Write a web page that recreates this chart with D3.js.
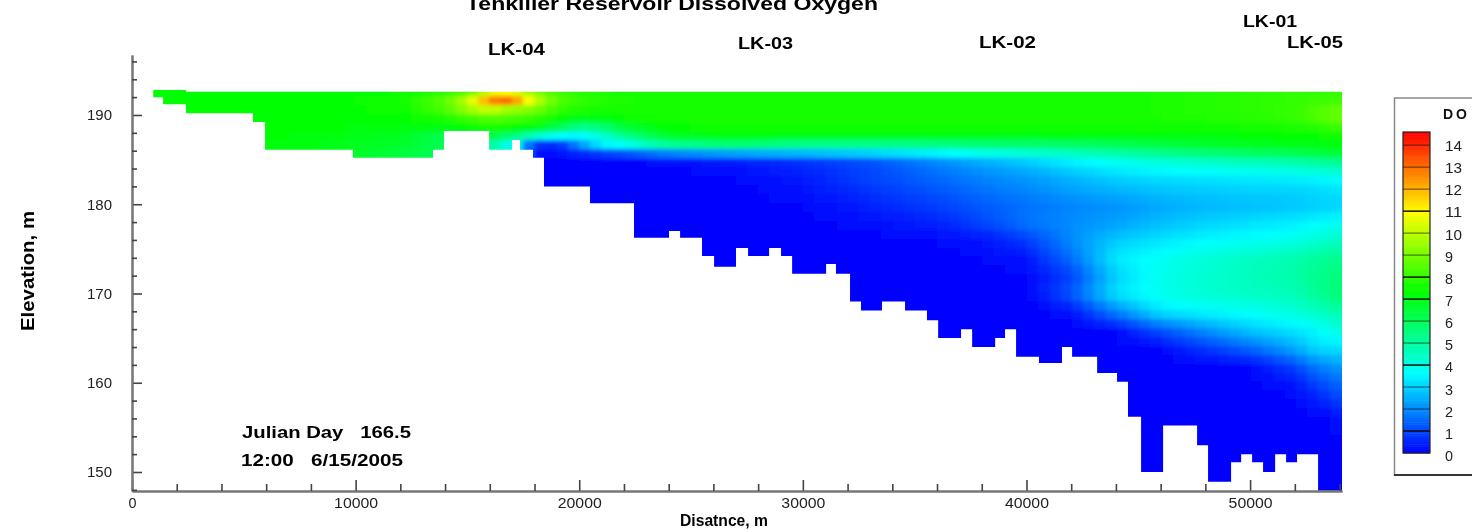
<!DOCTYPE html>
<html>
<head>
<meta charset="utf-8">
<script src="https://cdn.jsdelivr.net/npm/d3@7"></script>
<style>
	html, body { margin: 0; padding: 0; background: #fff; overflow: hidden; }
	svg { display: block; filter: blur(0.4px); font-family: 'Liberation Sans', Arial, sans-serif; }
	text { white-space: pre; filter: blur(0.6px); }
</style>
</head>
<body>
<svg id="chart" width="1472" height="529"></svg>
<script>
// distance along the reservoir (m) for each column of doValues
const distances = [1000, 4000, 8000, 12000, 14000, 15000, 16000, 16500, 17000, 18000, 19000, 20000, 21000, 22000, 24000, 27000, 30000, 33000, 36000, 38000, 40000, 42000, 44000, 46000, 48000, 50000, 52000, 53000, 54100];
// elevation (m) for each row of doValues
const elevations = [192.5, 191.7, 191, 190, 189, 188, 187, 186, 185.3, 184.5, 183, 182, 180, 178, 176, 174, 172, 170, 168, 166, 164, 162, 160, 158, 156, 152, 148];
// dissolved oxygen
const doValues = [
	[7.3, 7.3, 7.3, 7.4, 7.8, 8.4, 10.4, 11, 10.8, 9.2, 8.2, 7.9, 7.7, 7.6, 7.6, 7.6, 7.6, 7.6, 7.6, 7.6, 7.6, 7.6, 7.6, 7.7, 7.8, 7.9, 8, 8, 8],
	[7.3, 7.3, 7.3, 7.5, 8.6, 10, 12.6, 13.2, 12.9, 10.2, 8.5, 8, 7.8, 7.7, 7.6, 7.6, 7.6, 7.6, 7.6, 7.6, 7.6, 7.6, 7.6, 7.7, 7.8, 7.9, 8, 8.1, 8.2],
	[7.3, 7.3, 7.3, 7.5, 8.6, 10, 11, 10.2, 9.9, 9.4, 8.2, 7.8, 7.7, 7.6, 7.6, 7.6, 7.6, 7.6, 7.6, 7.6, 7.6, 7.6, 7.6, 7.7, 7.8, 7.9, 8, 8.4, 8.6],
	[7.3, 7.3, 7.3, 7.3, 7.8, 8.2, 8.7, 8.6, 8.5, 8.2, 7.7, 7.4, 7.5, 7.6, 7.6, 7.6, 7.6, 7.6, 7.6, 7.6, 7.6, 7.6, 7.6, 7.7, 7.8, 7.9, 8.1, 8.5, 9],
	[7.3, 7.3, 7.3, 7.2, 7.4, 7.8, 8, 7.9, 7.7, 7.5, 6.8, 5.8, 6.2, 7, 7.5, 7.5, 7.5, 7.5, 7.5, 7.5, 7.5, 7.5, 7.5, 7.6, 7.6, 7.7, 7.8, 8, 8.4],
	[7.3, 7.3, 7.2, 6.9, 6.2, 6.2, 6.9, 6.8, 6.4, 6, 5, 3.9, 4.2, 5.5, 7, 7.4, 7.4, 7.4, 7.4, 7.4, 7.4, 7.4, 7.4, 7.3, 7.2, 7.3, 7.4, 7.4, 7.6],
	[7.3, 7.3, 7.1, 6.8, 6.1, 6, 5.8, 3.9, 4.2, 1, 0.6, 2.6, 4.3, 4.7, 6.2, 6.6, 6, 5.9, 6, 6.1, 6.2, 6.3, 6.5, 6.7, 7, 7.1, 7.2, 7.3, 7.3],
	[7.3, 7.3, 7, 6.5, 6, 6, 5, 4, 4.2, 0.3, 0.3, 0.9, 1.4, 1.8, 3, 3.6, 3.8, 4, 4.3, 4.6, 4.8, 5, 5.4, 5.8, 6, 6.3, 6.5, 6.8, 7],
	[7.3, 7.3, 6.9, 6.4, 6, 6, 5, 4, 4, 0.1, 0.1, 0.1, 0.1, 0.2, 0.3, 0.6, 1, 1.6, 2.4, 3, 3.5, 3.9, 4.2, 4.6, 5, 5.3, 5.6, 5.8, 6],
	[7.3, 7.3, 6.9, 6.4, 6, 6, 5, 4, 4, 0, 0, 0, 0, 0, 0.1, 0.3, 0.6, 1, 1.8, 2.3, 2.7, 3.3, 3.7, 4, 4.2, 4.4, 4.6, 4.8, 5],
	[0, 0, 0, 0, 0, 0, 0, 0, 0, 0, 0, 0, 0, 0, 0, 0.1, 0.4, 1, 1.5, 1.9, 2.2, 2.6, 3, 3.2, 3.3, 3.4, 3.5, 3.6, 3.8],
	[0, 0, 0, 0, 0, 0, 0, 0, 0, 0, 0, 0, 0, 0, 0, 0, 0.3, 0.8, 1.3, 1.7, 2, 2.4, 2.7, 2.9, 3, 3.1, 3.1, 3.2, 3.4],
	[0, 0, 0, 0, 0, 0, 0, 0, 0, 0, 0, 0, 0, 0, 0, 0, 0.1, 0.5, 0.9, 1.3, 1.6, 1.9, 2.1, 2.4, 2.6, 2.7, 2.8, 2.9, 3],
	[0, 0, 0, 0, 0, 0, 0, 0, 0, 0, 0, 0, 0, 0, 0, 0, 0, 0.2, 0.5, 1, 1.7, 2, 2.3, 2.7, 3, 3.2, 3.4, 3.6, 3.8],
	[0, 0, 0, 0, 0, 0, 0, 0, 0, 0, 0, 0, 0, 0, 0, 0, 0, 0, 0.1, 0.2, 0.8, 2, 2.9, 3.3, 3.6, 3.8, 4, 4.3, 4.6],
	[0, 0, 0, 0, 0, 0, 0, 0, 0, 0, 0, 0, 0, 0, 0, 0, 0, 0, 0, 0.1, 0.3, 1.6, 3.4, 3.8, 4.2, 4.5, 4.8, 5.1, 5.3],
	[0, 0, 0, 0, 0, 0, 0, 0, 0, 0, 0, 0, 0, 0, 0, 0, 0, 0, 0, 0, 0.1, 0.9, 3, 3.9, 4.3, 4.6, 4.9, 5.3, 5.6],
	[0, 0, 0, 0, 0, 0, 0, 0, 0, 0, 0, 0, 0, 0, 0, 0, 0, 0, 0, 0, 0, 1.3, 3.3, 3.9, 4.3, 4.5, 4.7, 5.2, 5.8],
	[0, 0, 0, 0, 0, 0, 0, 0, 0, 0, 0, 0, 0, 0, 0, 0, 0, 0, 0, 0, 0, 0.2, 1.9, 3.3, 3.6, 3.8, 4.2, 4.5, 4.9],
	[0, 0, 0, 0, 0, 0, 0, 0, 0, 0, 0, 0, 0, 0, 0, 0, 0, 0, 0, 0, 0, 0, 0.1, 1.2, 2.1, 2.9, 3.3, 3.6, 4.2],
	[0, 0, 0, 0, 0, 0, 0, 0, 0, 0, 0, 0, 0, 0, 0, 0, 0, 0, 0, 0, 0, 0, 0, 0.1, 0.8, 1.5, 2.5, 3.2, 3.3],
	[0, 0, 0, 0, 0, 0, 0, 0, 0, 0, 0, 0, 0, 0, 0, 0, 0, 0, 0, 0, 0, 0, 0, 0, 0, 0.1, 1, 1.8, 2.3],
	[0, 0, 0, 0, 0, 0, 0, 0, 0, 0, 0, 0, 0, 0, 0, 0, 0, 0, 0, 0, 0, 0, 0, 0, 0, 0, 0.3, 1, 1.6],
	[0, 0, 0, 0, 0, 0, 0, 0, 0, 0, 0, 0, 0, 0, 0, 0, 0, 0, 0, 0, 0, 0, 0, 0, 0, 0, 0, 0.4, 1],
	[0, 0, 0, 0, 0, 0, 0, 0, 0, 0, 0, 0, 0, 0, 0, 0, 0, 0, 0, 0, 0, 0, 0, 0, 0, 0, 0, 0, 0.2],
	[0, 0, 0, 0, 0, 0, 0, 0, 0, 0, 0, 0, 0, 0, 0, 0, 0, 0, 0, 0, 0, 0, 0, 0, 0, 0, 0, 0, 0],
	[0, 0, 0, 0, 0, 0, 0, 0, 0, 0, 0, 0, 0, 0, 0, 0, 0, 0, 0, 0, 0, 0, 0, 0, 0, 0, 0, 0, 0]
];

// reservoir bed: each step starts at bedX and holds bedElev until the next one
const bedX = [950, 1390, 2415, 5410, 5950, 9880, 13460, 13950, 15970, 16990, 17350, 17930, 18425, 20480, 22450, 24015, 24510, 25490, 26030, 27010, 27550, 28490, 29025, 29520, 31040, 31480, 32110, 32600, 33540, 34570, 35550, 36050, 37075, 37570, 38600, 39040, 39535, 40560, 41590, 42040, 43160, 44050, 44540, 45125, 46110, 47630, 48120, 49150, 49600, 50090, 50580, 51120, 51610, 52100, 53040, 54110];
const bedElev = [192, 191.2, 190.2, 189.2, 186.1, 185.2, 186.1, 188.2, 186.1, 187.2, 186.1, 185.2, 182, 180.1, 176.25, 177, 176.25, 174.2, 173, 175.1, 174.2, 175.1, 174.2, 172.2, 173.3, 172.2, 169.1, 168.1, 169.1, 168.1, 167, 165, 166, 164, 165, 166, 162.9, 162.2, 164, 162.9, 161.1, 160.1, 156.2, 150, 155.2, 153, 148.9, 151.1, 152, 151.1, 150, 152, 151.1, 152, 147.9, 147.9];
const surfaceElev = 192.6;
const shallowSurfaceElev = 192.8;
const shallowEnd = 2415;

const xMajor = [0, 10000, 20000, 30000, 40000, 50000];
const xMinor = [2000, 4000, 6000, 8000, 12000, 14000, 16000, 18000, 22000, 24000, 26000, 28000, 32000, 34000, 36000, 38000, 42000, 44000, 46000, 48000, 52000, 54000];
const yMajor = [150, 160, 170, 180, 190];
const yMinor = [148, 152, 154, 156, 158, 162, 164, 166, 168, 172, 174, 176, 178, 182, 184, 186, 188, 192, 194, 196];

const colorStops = [0, 3.65, 7.3, 10.95, 14.6];
const colorRange = ['#0000ff', '#00ffff', '#00ff00', '#ffff00', '#ff0000'];
const legendLabels = [0, 1, 2, 3, 4, 5, 6, 7, 8, 9, 10, 11, 12, 13, 14];
const legendDarkLines = [1, 4, 7, 8, 11];

const stations = [
	{ name: 'LK-04', x: 488, y: 55, w: 57 },
	{ name: 'LK-03', x: 738, y: 49, w: 55 },
	{ name: 'LK-02', x: 979, y: 48, w: 57 },
	{ name: 'LK-01', x: 1243, y: 27, w: 54 },
	{ name: 'LK-05', x: 1287, y: 48, w: 56 }
];

const svg = d3.select('#chart');
const x = d3.scaleLinear().domain([0, 54110]).range([132, 1342]);
const y = d3.scaleLinear().domain([147.87, 196.72]).range([491, 55]);
const color = d3.scaleLinear().domain(colorStops).range(colorRange);

// fractional position inside the table of read values
const colIndex = d3.scaleLinear().domain(distances).range(d3.range(distances.length)).clamp(true);
const rowIndex = d3.scaleLinear().domain(elevations).range(d3.range(elevations.length)).clamp(true);

function sampleDO(dist, elev) {
	const c = colIndex(dist), r = rowIndex(elev);
	const c0 = Math.floor(c), r0 = Math.floor(r);
	const c1 = Math.min(c0 + 1, distances.length - 1), r1 = Math.min(r0 + 1, elevations.length - 1);
	const top = d3.interpolateNumber(doValues[r0][c0], doValues[r0][c1])(c - c0);
	const bottom = d3.interpolateNumber(doValues[r1][c0], doValues[r1][c1])(c - c0);
	return d3.interpolateNumber(top, bottom)(r - r0);
}

function drawField() {
	const cellW = 501, cellH = 1;
	const cells = d3.cross(d3.range(450, 54700, cellW), d3.range(146.2, 194.2, cellH));
	const bed = d3.area()
		.x(d => x(d[0]))
		.y0(d => y(d[1]))
		.y1(d => y(d[0] < shallowEnd ? shallowSurfaceElev : surfaceElev))
		.curve(d3.curveStepAfter);

	const defs = svg.append('defs');
	defs.append('clipPath').attr('id', 'water')
		.append('path').attr('d', bed(d3.zip(bedX, bedElev)));
	defs.append('filter').attr('id', 'soft')
		.attr('filterUnits', 'userSpaceOnUse')
		.attr('x', 0).attr('y', 0).attr('width', 1472).attr('height', 529)
		.append('feGaussianBlur').attr('stdDeviation', 2);

	svg.append('g').attr('clip-path', 'url(#water)')
		.append('g').attr('filter', 'url(#soft)')
		.attr('shape-rendering', 'crispEdges')
		.selectAll('rect')
		.data(cells)
		.enter()
		.append('rect')
		.attr('x', d => x(d[0]))
		.attr('y', d => y(d[1] + cellH))
		.attr('width', x(cellW) - x(0) + 0.5)
		.attr('height', y(0) - y(cellH) + 0.5)
		.attr('fill', d => color(sampleDO(d[0] + cellW / 2, d[1] + cellH / 2)));
}

function styleAxis(g) {
	g.selectAll('path').attr('stroke', '#777').attr('stroke-width', 2);
	g.selectAll('line').attr('stroke', '#444').attr('stroke-width', 1.6);
}

function drawAxes() {
	const xAxis = svg.append('g').attr('transform', 'translate(0,491)')
		.call(d3.axisBottom(x).tickValues(xMajor).tickSizeInner(-11).tickSizeOuter(0).tickPadding(6).tickFormat(d3.format('d')));
	const xAxisMinor = svg.append('g').attr('transform', 'translate(0,491)')
		.call(d3.axisBottom(x).tickValues(xMinor).tickSizeInner(-7).tickSizeOuter(0).tickFormat(''));
	xAxis.selectAll('text')
		.attr('font-size', 15).attr('fill', '#222').attr('font-family', 'Liberation Sans')
		.attr('textLength', d => d === 0 ? 8 : 44)
		.attr('lengthAdjust', 'spacingAndGlyphs');
	styleAxis(xAxis);
	styleAxis(xAxisMinor);

	const yAxis = svg.append('g').attr('transform', 'translate(132,0)')
		.call(d3.axisLeft(y).tickValues(yMajor).tickSizeInner(-10).tickSizeOuter(0).tickPadding(20).tickFormat(d3.format('d')));
	const yAxisMinor = svg.append('g').attr('transform', 'translate(132,0)')
		.call(d3.axisLeft(y).tickValues(yMinor).tickSizeInner(-5).tickSizeOuter(0).tickFormat(''));
	yAxis.selectAll('text')
		.attr('font-size', 15).attr('fill', '#222').attr('font-family', 'Liberation Sans')
		.attr('textLength', 25)
		.attr('lengthAdjust', 'spacingAndGlyphs');
	styleAxis(yAxis);
	styleAxis(yAxisMinor);
}

function label(txt, px, py, w, size) {
	return svg.append('text')
		.attr('x', px).attr('y', py)
		.attr('font-size', size).attr('font-weight', 'bold').attr('fill', '#000')
		.attr('textLength', w).attr('lengthAdjust', 'spacingAndGlyphs')
		.text(txt);
}

function drawLabels() {
	label('Tenkiller Reservoir Dissolved Oxygen', 466, 10, 412, 19);
	stations.forEach(s => label(s.name, s.x, s.y, s.w, 17));
	label('Disatnce, m', 680, 526, 88, 17);
	label('Elevation, m', 0, 0, 120, 18).attr('transform', 'translate(34,331) rotate(-90)');
	label('Julian Day   166.5', 242, 438, 169, 17);
	label('12:00   6/15/2005', 241, 466, 162, 17);
}

function drawLegend() {
	const legendY = d3.scaleLinear().domain([0, 14.6]).range([453, 132]);
	const labelY = d3.scaleLinear().domain([0, 14]).range([461, 151]);
	const g = svg.append('g');

	g.append('path').attr('d', 'M1480,98H1394.5V475H1480')
		.attr('fill', '#fff').attr('stroke', '#888').attr('stroke-width', 1.5);
	g.append('line').attr('x1', 1394).attr('x2', 1480).attr('y1', 475).attr('y2', 475)
		.attr('stroke', '#111').attr('stroke-width', 1.5);

	g.selectAll('rect.slice')
		.data(d3.range(0, 14.6, 0.1))
		.enter()
		.append('rect')
		.attr('class', 'slice')
		.attr('x', 1403).attr('width', 27)
		.attr('y', d => legendY(d + 0.1))
		.attr('height', legendY(0) - legendY(0.1) + 0.5)
		.attr('fill', d => color(d + 0.05));

	g.selectAll('line.sep')
		.data(legendLabels.slice(1))
		.enter()
		.append('line')
		.attr('class', 'sep')
		.attr('x1', 1403).attr('x2', 1430)
		.attr('y1', d => legendY(d)).attr('y2', d => legendY(d))
		.attr('stroke', '#000').attr('stroke-width', 1.4)
		.attr('stroke-opacity', d => legendDarkLines.includes(d) ? 1 : 0.45);

	g.append('rect').attr('x', 1403).attr('y', 132).attr('width', 27).attr('height', 321)
		.attr('fill', 'none').attr('stroke', '#222').attr('stroke-width', 1.2);

	g.selectAll('text.val')
		.data(legendLabels)
		.enter()
		.append('text')
		.attr('class', 'val')
		.attr('x', 1445)
		.attr('y', d => labelY(d))
		.attr('font-size', 14).attr('fill', '#222')
		.attr('textLength', d => d < 10 ? 8 : 17)
		.attr('lengthAdjust', 'spacingAndGlyphs')
		.text(d => d);

	g.append('text').attr('x', 1443).attr('y', 119)
		.attr('font-size', 14).attr('font-weight', 'bold').attr('fill', '#111')
		.attr('textLength', 24).text('D O');
}

drawField();
drawAxes();
drawLabels();
drawLegend();
</script>
</body>
</html>
